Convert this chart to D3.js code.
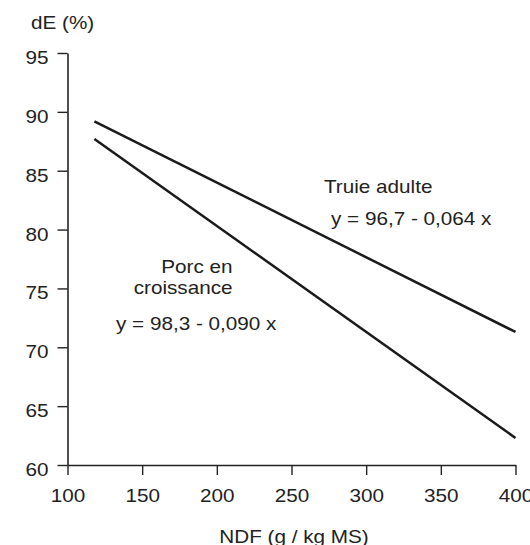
<!DOCTYPE html>
<html>
<head>
<meta charset="utf-8">
<script src="https://cdn.jsdelivr.net/npm/d3@7"></script>
<style>
  html, body { margin: 0; padding: 0; background: #fff; }
  text { font-family: "Liberation Sans", Arial, sans-serif; fill: #222; }
</style>
</head>
<body>
<div id="chart"></div>
<script>
// Values
const xTicks = [100, 150, 200, 250, 300, 350, 400];
const yTicks = [60, 65, 70, 75, 80, 85, 90, 95];

const truieX = [118, 400];
const truieY = [89.2, 71.3];
const porcX = [118, 400];
const porcY = [87.7, 62.3];

const xLabel = "NDF (g / kg MS)";
const yLabel = "dE (%)";

const width = 530, height = 545;
const fontSize = "18px";
const sx = 1.15; // glyphs in the picture are stretched horizontally

var svg = d3.select("#chart")
    .append("svg")
    .attr("width", width)
    .attr("height", height)
    .style("display", "block");

var x = d3.scaleLinear()
    .domain([100, 400])
    .range([67.5, 515.5]);

var y = d3.scaleLinear()
    .domain([60, 95])
    .range([465, 53]);

// stretched text helper
function label(px, py, txt, anchor) {
    svg.append("text")
        .attr("transform", "translate(" + px + "," + py + ") scale(" + sx + ",1)")
        .attr("text-anchor", anchor || "start")
        .style("font-size", fontSize)
        .text(txt);
}

// X axis
var gx = svg.append("g")
    .attr("transform", "translate(0," + y(60) + ")")
    .call(d3.axisBottom(x).tickValues(xTicks).tickSize(10).tickSizeOuter(0));

// Y axis
var gy = svg.append("g")
    .attr("transform", "translate(" + x(100) + ",0)")
    .call(d3.axisLeft(y).tickValues(yTicks).tickSize(10).tickSizeOuter(0));

[gx, gy].forEach(g => {
    g.select(".domain").attr("stroke", "#222").attr("stroke-width", 1.6);
    g.selectAll(".tick line").attr("stroke", "#222").attr("stroke-width", 1.4);
    g.selectAll(".tick text")
        .attr("font-family", null)
        .attr("fill", null)
        .attr("dy", 0)
        .attr("x", 0)
        .attr("y", 0)
        .style("font-size", fontSize);
});

// labels sit a little below their ticks in the picture
gy.selectAll(".tick text")
    .attr("transform", "translate(-19,10.5) scale(" + sx + ",1)");

gx.selectAll(".tick text")
    .attr("transform", "translate(0,37) scale(" + sx + ",1)");

// Axis titles
label(31, 29, yLabel);
label(294, 543, xLabel, "middle");

// Regression lines
var line = d3.line()
    .x(d => x(d.x))
    .y(d => y(d.y));

svg.append("path")
    .datum(truieX.map((v, i) => ({ x: v, y: truieY[i] })))
    .attr("fill", "none")
    .attr("stroke", "#1a1a1a")
    .attr("stroke-width", 2.5)
    .attr("d", line);

svg.append("path")
    .datum(porcX.map((v, i) => ({ x: v, y: porcY[i] })))
    .attr("fill", "none")
    .attr("stroke", "#1a1a1a")
    .attr("stroke-width", 2.5)
    .attr("d", line);

// Annotations
label(324, 192.5, "Truie adulte");
label(331, 225, "y = 96,7 - 0,064 x");
label(232.5, 272.5, "Porc en", "end");
label(232.5, 294, "croissance", "end");
label(116, 330, "y = 98,3 - 0,090 x");
</script>
</body>
</html>
